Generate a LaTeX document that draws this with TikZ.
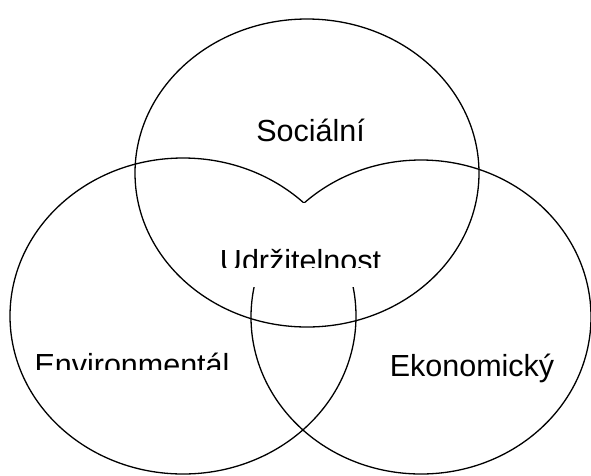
\documentclass[tikz,border=0pt]{standalone}
\usepackage{fontspec}
\setmainfont{Liberation Sans}
\usetikzlibrary{shapes,positioning}
\tikzset{
  % Define style for the circles
  circ/.style={
    ellipse,
    draw=black, line width=1.3pt,
    inner sep=0pt},
  % Define style for the labels
  lbl/.style={
    font=\fontsize{30.5}{36}\selectfont,
    inner sep=0pt,
    anchor=base},
  % Define white box in the middle
  cover/.style={
    rectangle,
    fill=white,
    inner sep=0pt,
    minimum width=130pt,
    minimum height=84pt},
}
\begin{document}
\begin{tikzpicture}[x=1pt, y=-1pt]
  \useasboundingbox (0,0) rectangle (591,475);
  % circles
  \node[circ, minimum width=344pt, minimum height=308pt] (soc) at (307,173) {};
  \node[circ, minimum width=346pt, minimum height=316pt] (env) at (183,316) {};
  \node[circ, minimum width=340pt, minimum height=314pt] (eko) at (421,317) {};
  % box over the middle
  \node[cover] (mid) at (305,245) {};
  % labels
  \node[lbl] (soctxt) at (310.5,141) {Sociální};
  \node[lbl] (ekotxt) at (472,376) {Ekonomický};
  \begin{scope}
    \clip (0,0) rectangle (591,267.5);
    \node[lbl] (udrztxt) at (300.5,271) {Udržitelnost};
  \end{scope}
  \begin{scope}
    \clip (0,0) rectangle (591,369);
    \node[lbl] (envtxt) at (132,375) {Environmentál};
  \end{scope}
\end{tikzpicture}
\end{document}
